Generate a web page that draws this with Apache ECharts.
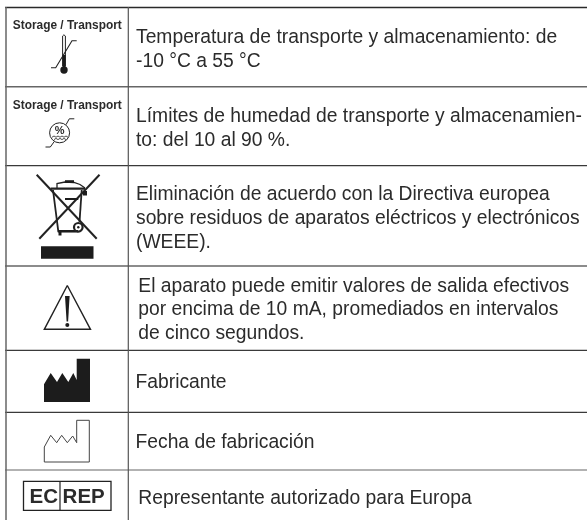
<!DOCTYPE html>
<html>
<head>
<meta charset="utf-8">
<style>html,body{margin:0;padding:0;background:#fff}#main{width:587px;height:520px}</style>
<script src="https://cdn.jsdelivr.net/npm/echarts@6/dist/echarts.min.js"></script>
</head>
<body>
<div id="main"></div>
<script>
// table content
var storageLabel = 'Storage / Transport';
var row1Lines = ['Temperatura de transporte y almacenamiento: de', '-10 °C a 55 °C'];
var row2Lines = ['Límites de humedad de transporte y almacenamien-', 'to: del 10 al 90 %.'];
var row3Lines = ['Eliminación de acuerdo con la Directiva europea', 'sobre residuos de aparatos eléctricos y electrónicos', '(WEEE).'];
var row4Lines = ['El aparato puede emitir valores de salida efectivos', 'por encima de 10 mA, promediados en intervalos', 'de cinco segundos.'];
var row5Lines = ['Fabricante'];
var row6Lines = ['Fecha de fabricación'];
var row7Lines = ['Representante autorizado para Europa'];

var FONT = '"Liberation Sans", Arial, sans-serif';
var INK = '#2b2b2b';
var DARK = '#1c1c1c';
var els = [];

function hline(y, w, c) { els.push({type: 'line', shape: {x1: 5, y1: y, x2: 587, y2: y}, style: {stroke: c || '#3a3a3a', lineWidth: w || 1}}); }
function vline(x, w, c) { els.push({type: 'line', shape: {x1: x, y1: 7, x2: x, y2: 520}, style: {stroke: c || '#555', lineWidth: w || 1}}); }
function poly(points, w, c) { els.push({type: 'polyline', shape: {points: points}, style: {stroke: c || '#222', lineWidth: w || 1, fill: 'none'}}); }
function shape(points) { els.push({type: 'polygon', shape: {points: points}, style: {fill: DARK}}); }
function rect(x, y, w, h) { els.push({type: 'rect', shape: {x: x, y: y, width: w, height: h}, style: {fill: DARK}}); }
function ring(cx, cy, r, w) { els.push({type: 'circle', shape: {cx: cx, cy: cy, r: r}, style: {fill: 'none', stroke: '#222', lineWidth: w}}); }
function dot(cx, cy, r) { els.push({type: 'circle', shape: {cx: cx, cy: cy, r: r}, style: {fill: DARK}}); }
// y here is the text baseline
function label(x, y, s, size, weight, align) {
  els.push({type: 'text', x: x, y: y - 0.27 * size, style: {text: s, font: (weight || 'normal') + ' ' + size + 'px ' + FONT, fill: INK, textAlign: align || 'left', textVerticalAlign: 'middle'}});
}
function textBlock(lines, x, baselines) {
  lines.forEach(function (s, i) { label(x, baselines[i], s, 19.3); });
}

// grid
hline(7.5, 1.3, '#2a2a2a');
hline(86.7, 1.4, '#666');
hline(165.7, 1.2);
hline(266, 1.5, '#666');
hline(350.3, 1.2);
hline(412.3, 1.2);
hline(470, 1.2, '#666');
vline(6, 1.5, '#666');
vline(128.3, 1.2);

// text
textBlock(row1Lines, 136, [42.7, 67]);
textBlock(row2Lines, 136, [121.7, 145.7]);
textBlock(row3Lines, 136, [200, 224, 248]);
textBlock(row4Lines, 138.3, [291.7, 315, 339]);
textBlock(row5Lines, 135.5, [388]);
textBlock(row6Lines, 135.5, [448]);
textBlock(row7Lines, 138.3, [503.5]);

label(67.3, 29, storageLabel, 11.9, 'bold', 'center');
label(67.3, 108.7, storageLabel, 11.9, 'bold', 'center');

// thermometer
poly([[62.6, 66], [62.6, 36], [63.9, 34.8], [65.4, 36], [65.4, 66]], 1);
rect(62.6, 55, 3, 14);
dot(64, 70, 3.7);
poly([[51, 67.7], [55.7, 67.7], [72, 40.7], [76.7, 40.7]], 1.1);

// humidity
ring(59.6, 132.8, 10, 1);
label(59.6, 134, '%', 11, 'bold', 'center');
poly([[45.5, 147], [50.3, 147], [54.3, 141.5]], 1);
poly([[66, 124.7], [69.3, 118.8], [74.3, 118.8]], 1);
poly([[52, 137.2], [54, 136], [56, 137.2], [58, 136], [60, 137.2], [62, 136], [64, 137.2], [66, 136], [68, 137.2]], 0.8);
poly([[54, 139.6], [56, 138.4], [58, 139.6], [60, 138.4], [62, 139.6], [64, 138.4], [66, 139.6]], 0.8);

// WEEE bin
poly([[36.7, 174.7], [96.7, 238.7]], 2);
poly([[99.5, 174.7], [39.3, 238.7]], 2);
poly([[50.7, 188.7], [85, 188.7]], 2.2);
poly([[53, 190], [58.3, 231.3], [76, 231.3]], 1.8);
poly([[81.7, 190], [79.5, 222]], 1.8);
poly([[57, 188], [57, 183.5], [65, 182], [74, 182.5], [80, 184.5], [85, 188]], 1.3);
rect(65, 180.2, 9, 2.8);
rect(65, 198, 13.3, 2);
rect(83, 191, 4, 4.5);
rect(58, 230, 20, 2.4);
rect(58.5, 231, 3, 4.5);
ring(78.3, 227.3, 4.3, 2.2);
dot(78.3, 227.3, 1.2);
rect(41, 246.3, 52.5, 12.5);

// warning triangle
poly([[67.3, 285.5], [90.5, 329.3], [44.3, 329.3], [67.3, 285.5]], 1.4);
shape([[65, 296], [69.6, 296], [68.1, 321.5], [66.6, 321.5]]);
dot(67.3, 325, 2);

// manufacturer
shape([[44, 402], [44, 384.3], [50.7, 373], [57, 382], [62.3, 373], [68.3, 382], [73.3, 373], [76.7, 380], [76.7, 358.7], [90, 358.7], [90, 402]]);

// date of manufacture
poly([[44.3, 462], [44.3, 447], [50.7, 435.3], [56.7, 442.7], [61.7, 435.3], [67.3, 442.7], [72.7, 436], [76.7, 442.7], [76.7, 420.3], [89.3, 420.3], [89.3, 462], [44.3, 462]], 1, '#444');

// EC REP
els.push({type: 'rect', shape: {x: 23.5, y: 481.3, width: 87.5, height: 29}, style: {fill: 'none', stroke: '#222', lineWidth: 1.3}});
els.push({type: 'line', shape: {x1: 60, y1: 481.3, x2: 60, y2: 510.3}, style: {stroke: '#222', lineWidth: 1.2}});
label(43.7, 503.3, 'EC', 20.5, 'bold', 'center');
label(83.7, 503.3, 'REP', 20.5, 'bold', 'center');

var chart = echarts.init(document.getElementById('main'), null, {renderer: 'canvas'});
chart.setOption({backgroundColor: '#fff', graphic: {elements: els}});
</script>
</body>
</html>
